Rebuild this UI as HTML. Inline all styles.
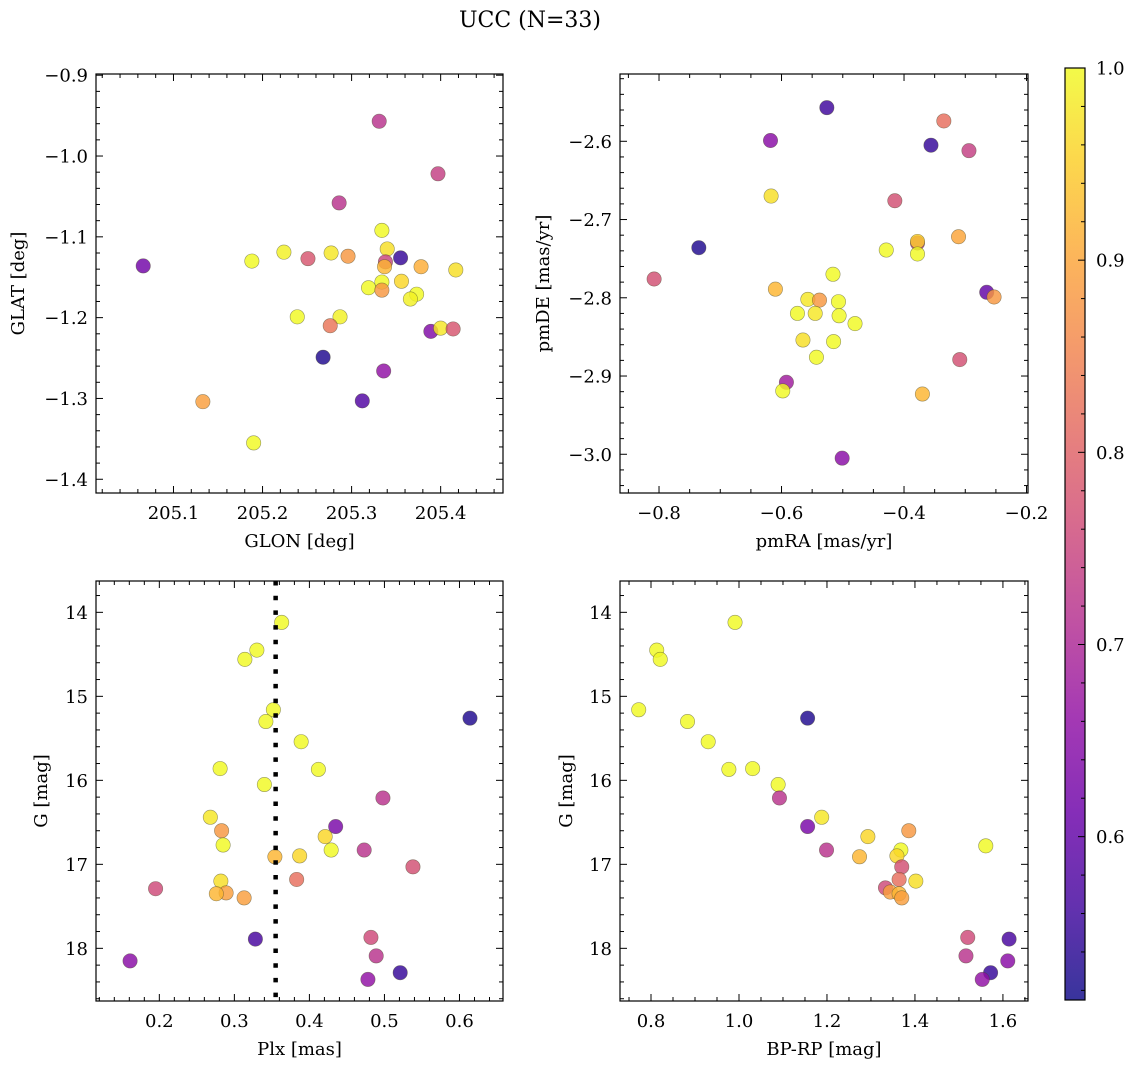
<!DOCTYPE html>
<html><head><meta charset="utf-8">
<style>
html,body{margin:0;padding:0;background:#fff;}
svg{display:block;font-family:"DejaVu Serif","Liberation Serif",serif;}
</style></head>
<body>
<svg id="fig" width="1136" height="1068" viewBox="0 0 1136 1068" xmlns="http://www.w3.org/2000/svg">
<defs>
<linearGradient id="plasma" x1="0" y1="1" x2="0" y2="0">
<stop offset="0" stop-color="#0d0887"/><stop offset="0.1" stop-color="#41049d"/><stop offset="0.2" stop-color="#6a00a8"/><stop offset="0.3" stop-color="#8f0da4"/><stop offset="0.4" stop-color="#b12a90"/><stop offset="0.5" stop-color="#cc4778"/><stop offset="0.6" stop-color="#e16462"/><stop offset="0.7" stop-color="#f2844b"/><stop offset="0.8" stop-color="#fca636"/><stop offset="0.9" stop-color="#fcce25"/><stop offset="1" stop-color="#f0f921"/>
</linearGradient>
</defs>
<text x="530" y="27" font-size="22" text-anchor="middle">UCC (N=33)</text>
</svg>
<script>
// ---- data ----
const glon=[205.331,205.397,205.286,205.334,205.340,205.224,205.277,205.251,205.296,205.355,205.338,205.337,205.378,205.417,205.066,205.188,205.334,205.356,205.319,205.334,205.373,205.366,205.239,205.287,205.276,205.389,205.400,205.414,205.268,205.336,205.312,205.133,205.190];
const glat=[-0.957,-1.022,-1.058,-1.092,-1.115,-1.119,-1.120,-1.127,-1.124,-1.126,-1.131,-1.137,-1.137,-1.141,-1.136,-1.130,-1.156,-1.155,-1.163,-1.166,-1.171,-1.177,-1.199,-1.199,-1.210,-1.217,-1.213,-1.214,-1.249,-1.266,-1.303,-1.304,-1.355];
const probA=[0.72,0.74,0.72,1.0,0.97,0.99,0.98,0.78,0.88,0.55,0.75,0.92,0.91,0.97,0.62,1.0,1.0,0.96,1.0,0.88,1.0,0.99,1.0,0.99,0.83,0.64,0.98,0.78,0.53,0.66,0.58,0.89,1.0];
const pmra=[-0.526,-0.618,-0.335,-0.356,-0.294,-0.617,-0.415,-0.735,-0.378,-0.378,-0.311,-0.429,-0.378,-0.808,-0.516,-0.610,-0.265,-0.253,-0.557,-0.538,-0.507,-0.574,-0.545,-0.506,-0.480,-0.565,-0.515,-0.543,-0.309,-0.592,-0.598,-0.370,-0.501];
const pmde=[-2.557,-2.599,-2.574,-2.605,-2.612,-2.670,-2.676,-2.736,-2.730,-2.728,-2.722,-2.739,-2.744,-2.776,-2.770,-2.789,-2.793,-2.799,-2.802,-2.803,-2.805,-2.820,-2.820,-2.823,-2.833,-2.854,-2.856,-2.876,-2.879,-2.908,-2.919,-2.923,-3.005];
const probB=[0.56,0.65,0.82,0.55,0.74,0.97,0.77,0.53,0.72,0.95,0.9,1.0,1.0,0.77,1.0,0.92,0.6,0.88,0.98,0.88,1.0,1.0,0.98,1.0,1.0,0.97,1.0,1.0,0.77,0.68,1.0,0.92,0.65];
const plx=[0.363,0.330,0.314,0.352,0.342,0.614,0.389,0.281,0.412,0.340,0.498,0.268,0.435,0.283,0.421,0.285,0.429,0.473,0.354,0.387,0.538,0.383,0.195,0.282,0.289,0.276,0.313,0.328,0.482,0.161,0.489,0.521,0.478];
const gC=[14.12,14.45,14.56,15.16,15.30,15.26,15.54,15.86,15.87,16.05,16.21,16.44,16.55,16.60,16.67,16.77,16.83,16.83,16.91,16.90,17.03,17.18,17.29,17.20,17.34,17.35,17.40,17.89,17.87,18.15,18.09,18.29,18.37];
const probC=[1.0,1.0,1.0,1.0,1.0,0.53,1.0,1.0,1.0,1.0,0.72,0.98,0.63,0.88,0.96,1.0,1.0,0.72,0.92,0.96,0.77,0.82,0.76,0.97,0.89,0.92,0.89,0.57,0.76,0.65,0.72,0.55,0.66];
const bprp=[0.991,0.813,0.821,0.772,1.156,0.883,0.930,0.977,1.031,1.089,1.092,1.188,1.156,1.386,1.293,1.561,1.368,1.199,1.274,1.359,1.370,1.364,1.402,1.333,1.344,1.364,1.370,1.520,1.614,1.516,1.611,1.572,1.553];
const gD=[14.12,14.45,14.56,15.16,15.26,15.30,15.54,15.87,15.86,16.05,16.21,16.44,16.55,16.60,16.67,16.78,16.83,16.83,16.91,16.90,17.03,17.18,17.20,17.28,17.33,17.35,17.40,17.87,17.89,18.09,18.15,18.29,18.37];
const probD=[1.0,1.0,1.0,1.0,0.53,1.0,1.0,1.0,1.0,1.0,0.72,0.98,0.63,0.88,0.96,1.0,1.0,0.72,0.92,0.96,0.77,0.82,0.97,0.76,0.89,0.92,0.89,0.76,0.57,0.72,0.65,0.55,0.66];
const plxMean=[0.355];
const cbTicks=[0.6,0.7,0.8,0.9,1.0];
const cbMin=0.515, cbMax=1.0;

const NS='http://www.w3.org/2000/svg';
const svg=document.getElementById('fig');
const stops=[[13,8,135],[65,4,157],[106,0,168],[143,13,164],[177,42,144],[204,71,120],[225,100,98],[242,132,75],[252,166,54],[252,206,37],[240,249,33]];
function cmap(v){let t=(v-cbMin)/(cbMax-cbMin);t=Math.max(0,Math.min(1,t));const f=t*10,i=Math.min(9,Math.floor(f)),r=f-i;const a=stops[i],b=stops[i+1];return 'rgb('+a.map((c,k)=>Math.round(c+(b[k]-c)*r)).join(',')+')';}
function el(tag,attrs,parent){const e=document.createElementNS(NS,tag);for(const k in attrs)e.setAttribute(k,attrs[k]);(parent||svg).appendChild(e);return e;}
function fmt(v,d){return (v<0?'\u2212':'')+Math.abs(v).toFixed(d);}
const FS=18;

function panel(o){
  const g=el('g',{});
  
  
  const sx=v=>o.x0+(v-o.xlim[0])/(o.xlim[1]-o.xlim[0])*o.w;
  const sy=v=>o.y0+(v-o.ylim[0])/(o.ylim[1]-o.ylim[0])*o.h;
  const lo=Math.min(...o.xlim),hi=Math.max(...o.xlim);
  const ylo=Math.min(...o.ylim),yhi=Math.max(...o.ylim);
  const tg=el('g',{stroke:'#000','stroke-width':1},g);
  
  
  for(let v=Math.ceil(lo/o.xmin-1e-6)*o.xmin;v<=hi+1e-9;v+=o.xmin){
    const X=sx(v);const isMaj=Math.abs(v/o.xmaj-Math.round(v/o.xmaj))<1e-4;const L=isMaj?7:4;
    el('line',{x1:X,x2:X,y1:o.y0+o.h,y2:o.y0+o.h-L},tg);el('line',{x1:X,x2:X,y1:o.y0,y2:o.y0+L},tg);
    if(isMaj){const t=el('text',{x:X,y:o.y0+o.h+26,'font-size':FS,'text-anchor':'middle',stroke:'none'},g);t.textContent=fmt(v,o.xd);
      
      }
  }
  for(let v=Math.ceil(ylo/o.ymin-1e-6)*o.ymin;v<=yhi+1e-9;v+=o.ymin){
    const Y=sy(v);const isMaj=Math.abs(v/o.ymaj-Math.round(v/o.ymaj))<1e-4;const L=isMaj?7:4;
    el('line',{x1:o.x0,x2:o.x0+L,y1:Y,y2:Y},tg);el('line',{x1:o.x0+o.w,x2:o.x0+o.w-L,y1:Y,y2:Y},tg);
    if(isMaj){const t=el('text',{x:o.x0-8,y:Y+6.5,'font-size':FS,'text-anchor':'end',stroke:'none'},g);t.textContent=fmt(v,o.yd);
      
      }
  }
  const pg=el('g',{},g);
  
  
  for(let i=0;i<o.xs.length;i++){
    const c=el('circle',{cx:sx(o.xs[i]),cy:sy(o.ys[i]),r:7.2,fill:cmap(o.cs[i]),'fill-opacity':0.82,stroke:'rgba(70,70,40,0.55)','stroke-width':0.6},pg);
    
    
  }
  if(o.vline){const X=sx(o.vline[0]);const l=el('line',{x1:X,x2:X,y1:o.y0,y2:o.y0+o.h,stroke:'#000','stroke-width':4.5,'stroke-dasharray':'4.5 10.2'},g);
    
    }
  const fr=el('rect',{x:o.x0,y:o.y0,width:o.w,height:o.h,fill:'none',stroke:'#000','stroke-width':1.2},g);
  
  
  const xl=el('text',{x:o.x0+o.w/2,y:o.y0+o.h+54,'font-size':FS,'text-anchor':'middle'},g);xl.textContent=o.xlabel;
  
  
  const yx=o.ylx,yy=o.y0+o.h/2;
  const yl=el('text',{x:yx,y:yy,'font-size':FS,'text-anchor':'middle',transform:'rotate(-90 '+yx+' '+yy+')'},g);yl.textContent=o.ylabel;
  
  
}

panel({name:'glon-glat-panel',x0:96,y0:74,w:407,h:419,xlim:[205.013,205.470],ylim:[-0.8985,-1.417],xmaj:0.1,xmin:0.02,ymaj:0.1,ymin:0.02,xd:1,yd:1,xs:glon,ys:glat,cs:probA,xlabel:'GLON [deg]',ylabel:'GLAT [deg]',ylx:24});
panel({name:'pm-panel',x0:620,y0:74,w:408,h:419,xlim:[-0.8637,-0.1976],ylim:[-2.514,-3.0495],xmaj:0.2,xmin:0.05,ymaj:0.1,ymin:0.02,xd:1,yd:1,xs:pmra,ys:pmde,cs:probB,xlabel:'pmRA [mas/yr]',ylabel:'pmDE [mas/yr]',ylx:549});
panel({name:'plx-g-panel',x0:96,y0:581,w:407,h:420,xlim:[0.1156,0.658],ylim:[13.627,18.627],xmaj:0.1,xmin:0.02,ymaj:1,ymin:0.2,xd:1,yd:0,xs:plx,ys:gC,cs:probC,vline:plxMean,xlabel:'Plx [mas]',ylabel:'G [mag]',ylx:47});
panel({name:'cmd-panel',x0:620,y0:581,w:408,h:420,xlim:[0.7295,1.657],ylim:[13.627,18.627],xmaj:0.2,xmin:0.05,ymaj:1,ymin:0.2,xd:1,yd:0,xs:bprp,ys:gD,cs:probD,xlabel:'BP-RP [mag]',ylabel:'G [mag]',ylx:572});

const cb=el('g',{});


const cbx=1065,cby=68,cbw=20,cbh=932;
el('rect',{x:cbx,y:cby,width:cbw,height:cbh,fill:'url(#plasma)','fill-opacity':0.82},cb);
el('rect',{x:cbx,y:cby,width:cbw,height:cbh,fill:'none',stroke:'#000','stroke-width':1.2},cb);
const cy=v=>cby+cbh-(v-cbMin)/(cbMax-cbMin)*cbh;
for(let k=Math.ceil(cbMin/0.02);k*0.02<=cbMax+1e-9;k++){const v=k*0.02;const Y=cy(v);const maj=Math.abs(v*10-Math.round(v*10))<1e-4;el('line',{x1:cbx+cbw,x2:cbx+cbw-(maj?7:4),y1:Y,y2:Y,stroke:'#000','stroke-width':1},cb);}
for(const v of cbTicks){const t=el('text',{x:cbx+cbw+11,y:cy(v)+6.5,'font-size':FS},cb);t.textContent=v.toFixed(1);
  
  }
</script>
</body></html>
